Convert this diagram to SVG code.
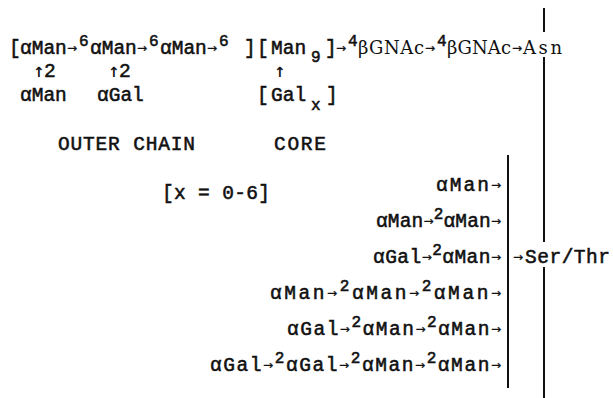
<svg xmlns="http://www.w3.org/2000/svg" width="613" height="398" viewBox="0 0 613 398">
<style>
text{fill:#111}
.m{font-family:"Liberation Mono","Courier New",monospace;font-size:19.5px;stroke:#111;stroke-width:0.55px}
.s{font-family:"DejaVu Serif","Liberation Serif",serif;font-size:18px}
.a{font-family:"DejaVu Sans",sans-serif;font-size:12px;baseline-shift:2px;stroke-width:0.3px}
.u{font-family:"DejaVu Sans",sans-serif;font-size:14px;font-weight:bold;stroke-width:0}
.p{font-size:16px;baseline-shift:8px}
.ln{stroke:#111;stroke-width:2;fill:none}
</style>
<rect width="613" height="398" fill="#fff"/>
<g id="connectors">
<line class="ln" x1="508" y1="155" x2="508" y2="388"/>
<line class="ln" x1="544" y1="8" x2="544" y2="32"/>
<line class="ln" x1="544" y1="57" x2="544" y2="242"/>
<line class="ln" x1="544" y1="267" x2="544" y2="398"/>
</g>
<g id="main-chain">
<text class="m" y="54"><tspan x="9">[</tspan><tspan x="20">αMan</tspan><tspan class="a" x="67">→</tspan><tspan class="p" x="79">6</tspan><tspan x="90">αMan</tspan><tspan class="a" x="137">→</tspan><tspan class="p" x="149">6</tspan><tspan x="160">αMan</tspan><tspan class="a" x="207">→</tspan><tspan class="p" x="219">6</tspan><tspan x="244">]</tspan><tspan x="257">[</tspan><tspan x="271">Man</tspan><tspan x="311" y="62" font-size="16">9</tspan><tspan x="325" y="54">]</tspan><tspan class="a" x="336">→</tspan><tspan class="p" x="348">4</tspan><tspan class="a" x="425">→</tspan><tspan class="p" x="437">4</tspan><tspan class="a" x="512">→</tspan></text>
<text class="s" y="54"><tspan x="358" textLength="66">βGNAc</tspan><tspan x="447" textLength="64">βGNAc</tspan><tspan x="523" textLength="39">Asn</tspan></text>
</g>
<g id="branches">
<text class="m" y="77"><tspan class="u" x="33">↑</tspan><tspan x="44">2</tspan><tspan class="u" x="108">↑</tspan><tspan x="119">2</tspan><tspan class="u" x="274">↑</tspan></text>
<text class="m" y="101"><tspan x="20">αMan</tspan><tspan x="97">αGal</tspan><tspan x="257">[</tspan><tspan x="271">Gal</tspan><tspan x="311" y="110" font-size="16">x</tspan><tspan x="326" y="101">]</tspan></text>
</g>
<g id="labels">
<text class="m" x="58" y="150" textLength="137">OUTER CHAIN</text>
<text class="m" x="274" y="150" textLength="52">CORE</text>
<text class="m" x="162" y="199" textLength="108">[x = 0-6]</text>
</g>
<g id="oligos" class="m">
<text x="436" y="191" textLength="65">αMan<tspan class="a">→</tspan></text>
<text x="376" y="227" textLength="125">αMan<tspan class="a">→</tspan><tspan class="p">2</tspan>αMan<tspan class="a">→</tspan></text>
<text x="373" y="263" textLength="128">αGal<tspan class="a">→</tspan><tspan class="p">2</tspan>αMan<tspan class="a">→</tspan></text>
<text x="270" y="299" textLength="231">αMan<tspan class="a">→</tspan><tspan class="p">2</tspan>αMan<tspan class="a">→</tspan><tspan class="p">2</tspan>αMan<tspan class="a">→</tspan></text>
<text x="287" y="335" textLength="214">αGal<tspan class="a">→</tspan><tspan class="p">2</tspan>αMan<tspan class="a">→</tspan><tspan class="p">2</tspan>αMan<tspan class="a">→</tspan></text>
<text x="210" y="371" textLength="291">αGal<tspan class="a">→</tspan><tspan class="p">2</tspan>αGal<tspan class="a">→</tspan><tspan class="p">2</tspan>αMan<tspan class="a">→</tspan><tspan class="p">2</tspan>αMan<tspan class="a">→</tspan></text>
</g>
<g id="ser-thr">
<text class="m" y="263"><tspan class="a" x="513">→</tspan><tspan x="525" textLength="85">Ser/Thr</tspan></text>
</g>
</svg>
